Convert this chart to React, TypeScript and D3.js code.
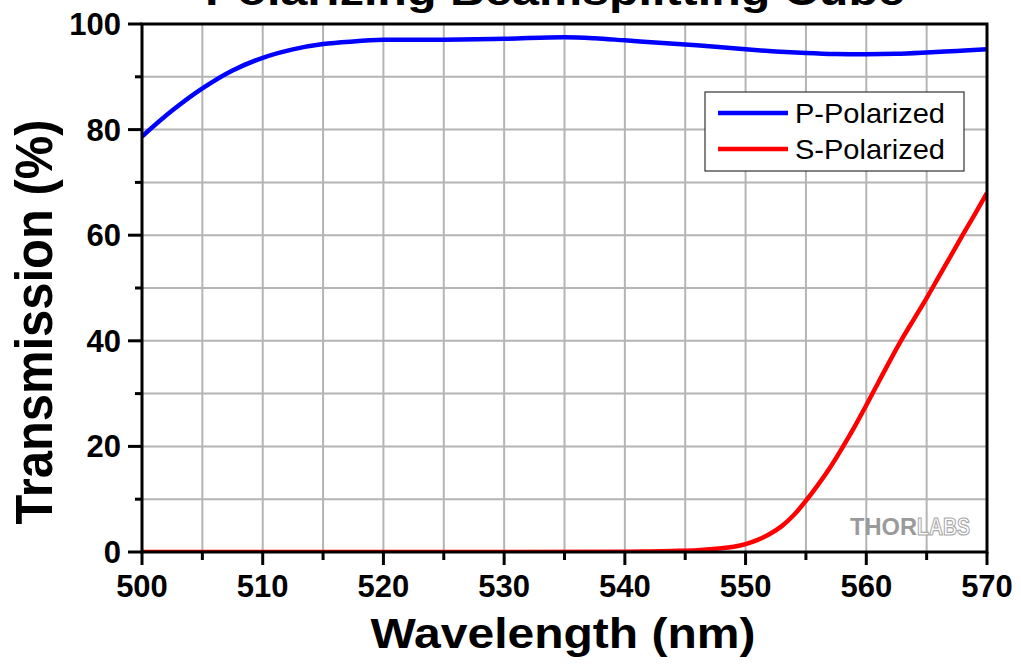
import React from "react";
import * as d3 from "d3";

const pWavelengths = [500, 502.5, 505, 507.5, 510, 512.5, 515, 517.5, 520, 525, 530, 535, 537.5, 540, 542.5, 545, 547.5, 550, 552.5, 555, 557.5, 560, 562.5, 565, 567.5, 570];
const pValues = [78.7, 83.6, 87.8, 91.2, 93.6, 95.2, 96.2, 96.7, 97.0, 97.0, 97.2, 97.5, 97.3, 96.9, 96.5, 96.1, 95.7, 95.2, 94.8, 94.5, 94.3, 94.25, 94.35, 94.6, 94.9, 95.2];

const sWavelengths = [500, 520, 540, 542, 544, 546, 548, 549, 550, 551, 552, 553, 554, 555, 556, 557, 558, 559, 560, 561, 562, 563, 564, 565, 566, 567, 568, 569, 570];
const sValues = [0, 0, 0.05, 0.1, 0.2, 0.35, 0.7, 1.0, 1.5, 2.3, 3.4, 4.9, 7.0, 9.7, 12.7, 16.0, 19.7, 23.6, 27.8, 32.1, 36.4, 40.5, 44.3, 48.1, 52.1, 56.1, 60.1, 64.0, 68.0];

const xMajorTicks = [500, 510, 520, 530, 540, 550, 560, 570];
const xMinorTicks = [505, 515, 525, 535, 545, 555, 565];
const yMajorTicks = [0, 20, 40, 60, 80, 100];
const yMinorTicks = [10, 30, 50, 70, 90];

const seriesNames = ["P-Polarized", "S-Polarized"];
const seriesColors = ["#0000ff", "#ff0000"];

const W = 1021;
const H = 665;
const left = 142;
const right = 987;
const top = 24;
const bottom = 552;
const FONT = "'Liberation Sans', Arial, Helvetica, sans-serif";

export default function App() {
  const x = d3.scaleLinear().domain([500, 570]).range([left, right]);
  const y = d3.scaleLinear().domain([0, 100]).range([bottom, top]);
  const line = d3
    .line<[number, number]>()
    .x((d) => x(d[0]))
    .y((d) => y(d[1]))
    .curve(d3.curveCatmullRom.alpha(0.5));

  const pData = pWavelengths.map((w, i) => [w, pValues[i]] as [number, number]);
  const sData = sWavelengths.map((w, i) => [w, sValues[i]] as [number, number]);
  const gridX = [...xMajorTicks, ...xMinorTicks].filter((v) => v > 500 && v < 570);
  const gridY = [...yMajorTicks, ...yMinorTicks].filter((v) => v > 0 && v < 100);

  return (
    <svg
      width={W}
      height={H}
      style={{ position: "absolute", left: 0, top: 0, background: "#fff" }}
      fontFamily={FONT}
    >
      <defs>
        <clipPath id="plotClip">
          <rect x={left} y={top - 3} width={right - left} height={bottom - top + 3} />
        </clipPath>
      </defs>
      <rect x={0} y={0} width={W} height={H} fill="#fff" />
      {/* title (cut off at the top edge, as in the reference) */}
      <text x={555} y={5} textAnchor="middle" fontSize={41} fontWeight="bold" textLength={700} lengthAdjust="spacingAndGlyphs">
        Polarizing Beamsplitting Cube
      </text>
      {/* grid */}
      {gridX.map((v) => (
        <line key={"gx" + v} x1={x(v)} x2={x(v)} y1={top} y2={bottom} stroke="#b4b4b4" strokeWidth={2} />
      ))}
      {gridY.map((v) => (
        <line key={"gy" + v} x1={left} x2={right} y1={y(v)} y2={y(v)} stroke="#b4b4b4" strokeWidth={2} />
      ))}
      {/* watermark */}
      <text x={850} y={535} fontSize={24} fontWeight="bold" fill="#9a9a9a" textLength={67} lengthAdjust="spacingAndGlyphs">
        THOR
      </text>
      <text x={917} y={535} fontSize={24} fontWeight="bold" fill="#ffffff" stroke="#a8a8a8" strokeWidth={1.2} textLength={53} lengthAdjust="spacingAndGlyphs">
        LABS
      </text>
      {/* curves */}
      <g clipPath="url(#plotClip)">
        <path d={line(sData) || ""} fill="none" stroke={seriesColors[1]} strokeWidth={4.5} />
        <path d={line(pData) || ""} fill="none" stroke={seriesColors[0]} strokeWidth={4.5} />
      </g>
      {/* frame */}
      <rect x={left} y={top} width={right - left} height={bottom - top} fill="none" stroke="#000" strokeWidth={3} />
      {/* x ticks */}
      {xMajorTicks.map((v) => (
        <g key={"xt" + v}>
          <line x1={x(v)} x2={x(v)} y1={bottom} y2={bottom + 13} stroke="#000" strokeWidth={3} />
          <text x={x(v)} y={597} textAnchor="middle" fontSize={31} fontWeight="bold">
            {v}
          </text>
        </g>
      ))}
      {xMinorTicks.map((v) => (
        <line key={"xm" + v} x1={x(v)} x2={x(v)} y1={bottom} y2={bottom + 8} stroke="#000" strokeWidth={3} />
      ))}
      {/* y ticks */}
      {yMajorTicks.map((v) => (
        <g key={"yt" + v}>
          <line x1={left} x2={left - 14} y1={y(v)} y2={y(v)} stroke="#000" strokeWidth={3} />
          <text x={121} y={y(v) + 11} textAnchor="end" fontSize={31} fontWeight="bold">
            {v}
          </text>
        </g>
      ))}
      {yMinorTicks.map((v) => (
        <line key={"ym" + v} x1={left} x2={left - 7} y1={y(v)} y2={y(v)} stroke="#000" strokeWidth={3} />
      ))}
      {/* axis titles */}
      <text x={563} y={648} textAnchor="middle" fontSize={42} fontWeight="bold" textLength={385} lengthAdjust="spacingAndGlyphs">
        Wavelength (nm)
      </text>
      <text
        transform={`translate(52, 322) rotate(-90)`}
        textAnchor="middle"
        fontSize={51}
        fontWeight="bold"
        textLength={405}
        lengthAdjust="spacingAndGlyphs"
      >
        Transmission (%)
      </text>
      {/* legend */}
      <rect x={705} y={92} width={259} height={79} fill="#fff" stroke="#333" strokeWidth={1.2} />
      {seriesNames.map((name, i) => (
        <g key={name}>
          <line x1={718} x2={788} y1={113 + i * 36} y2={113 + i * 36} stroke={seriesColors[i]} strokeWidth={4.5} />
          <text x={795} y={113 + i * 36 + 10} fontSize={28} textLength={150} lengthAdjust="spacingAndGlyphs">
            {name}
          </text>
        </g>
      ))}
    </svg>
  );
}
